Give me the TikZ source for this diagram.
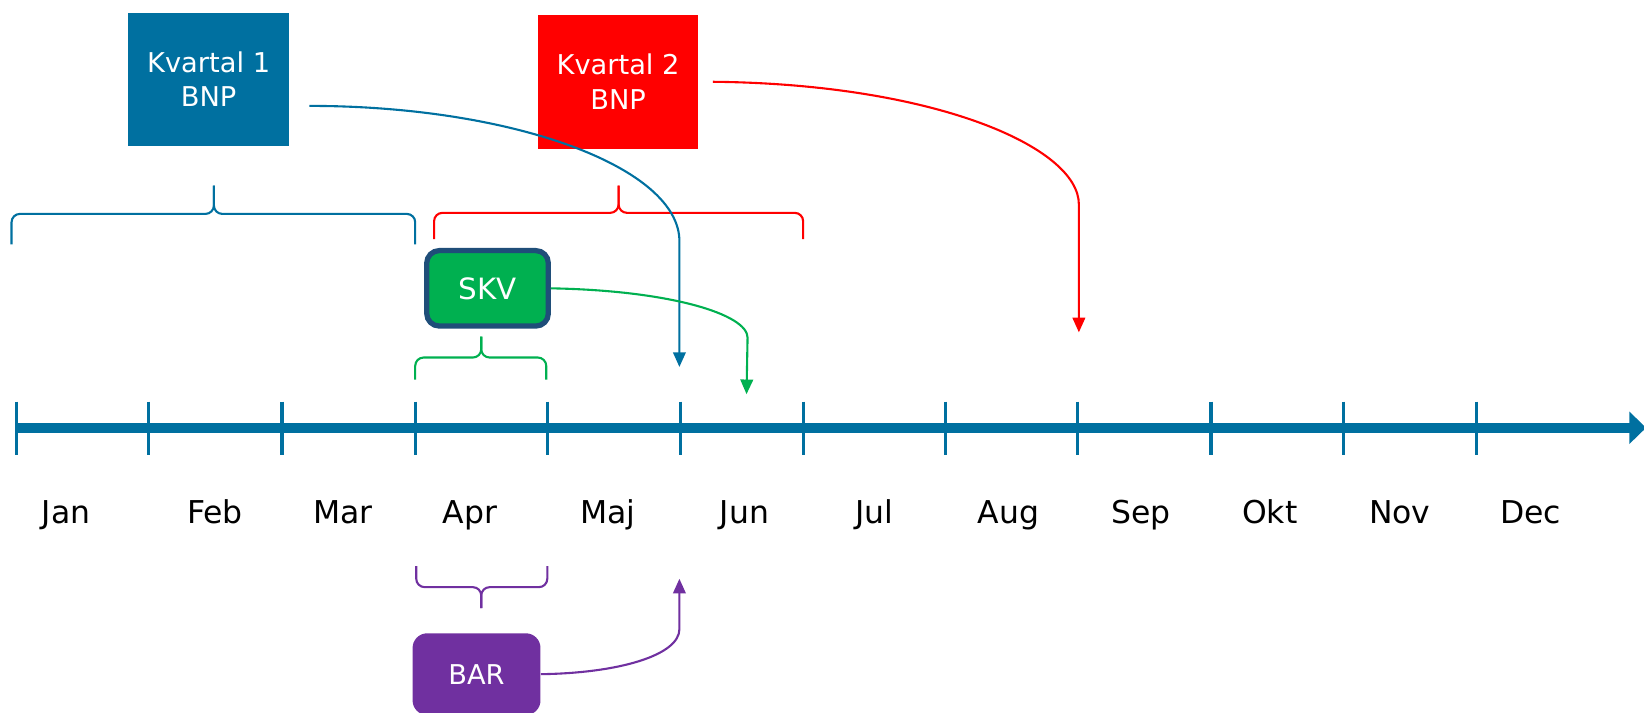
\documentclass[tikz,border=0pt]{standalone}
\usepackage{fontspec}
\setmainfont{DejaVu Sans}
\usetikzlibrary{arrows.meta,shapes}
\definecolor{kvblue}{RGB}{0,112,160}
\definecolor{skvgreen}{RGB}{0,176,80}
\definecolor{skvrand}{RGB}{31,78,121}
\definecolor{barlila}{RGB}{112,48,160}
\tikzset{
  ruta/.style={text=white, align=center, inner sep=0pt, font=\fontsize{13}{16.5}\selectfont},
  klammer/.style={line width=1pt, rounded corners=4pt},
  pil/.style={->, line width=1pt}
}

\begin{document}
\begin{tikzpicture}[x=0.5pt,y=-0.5pt,>={Triangle[length=7pt,width=6pt]}]
\useasboundingbox (0,0) rectangle (1568,680);
% tidslinje
\draw [kvblue,line width=4.8pt,-{Triangle[length=8pt,width=15pt]}] (16,408) -- (1570,408);
\foreach \x in {16,142,269,396,522,649,766,902,1028,1155,1281,1408}
  \draw [kvblue,line width=1.5pt] (\x,383) -- (\x,434);
\foreach \x/\m in {63/Jan,205/Feb,327/Mar,448/Apr,580/Maj,710/Jun,834/Jul,962/Aug,1088/Sep,1211/Okt,1335/Nov,1460/Dec}
  \node (\m) at (\x,499) [anchor=base,font=\fontsize{15}{18}\selectfont] {\m};

% rutor
\node (K1) at (199,75.5) [ruta,fill=kvblue,minimum width=77pt,minimum height=63.5pt] {Kvartal 1\\BNP};
\node (K2) at (589.5,78) [ruta,fill=red,minimum width=76.5pt,minimum height=64pt] {Kvartal 2\\BNP};
\node (SKV) at (465,275) [ruta,fill=skvgreen,draw=skvrand,line width=2.5pt,rounded corners=6pt,minimum width=58pt,minimum height=36pt,font=\fontsize{14}{16}\selectfont] {SKV};
\node (BAR) at (454.5,643) [ruta,fill=barlila,rounded corners=7pt,minimum width=61pt,minimum height=39pt] {BAR};

% klammer
\draw [klammer,kvblue] (11,233) -- (11,204) -- (204,204) -- (204,177);
\draw [klammer,kvblue] (396,233) -- (396,204) -- (204,204) -- (204,177);
\draw [klammer,red] (414,228) -- (414,203) -- (590,203) -- (590,177);
\draw [klammer,red] (766,228) -- (766,203) -- (590,203) -- (590,177);
\draw [klammer,skvgreen] (396,362) -- (396,341) -- (459,341) -- (459,321);
\draw [klammer,skvgreen] (521,362) -- (521,341) -- (459,341) -- (459,321);
\draw [klammer,barlila] (397,540) -- (397,560) -- (459,560) -- (459,580);
\draw [klammer,barlila] (522,540) -- (522,560) -- (459,560) -- (459,580);

% pilar
\coordinate (k1ut) at (295,101);
\coordinate (k1in) at (648,350);
\coordinate (k2ut) at (680,78);
\coordinate (k2in) at (1029,317);
\coordinate (skvin) at (712,376);
\coordinate (barin) at (648,552);
\draw [pil,kvblue] (k1ut) .. controls (490,101) and (648,160) .. (648,230) -- (k1in);
\draw [pil,red] (k2ut) .. controls (890,80) and (1029,140) .. (1029,195) -- (k2in);
\draw [pil,skvgreen] (SKV.east) .. controls (640,277) and (713,300) .. (713,322) -- (skvin);
\draw [pil,barlila] (BAR.east) .. controls (590,642) and (648,625) .. (648,600) -- (barin);
\end{tikzpicture}
\end{document}
